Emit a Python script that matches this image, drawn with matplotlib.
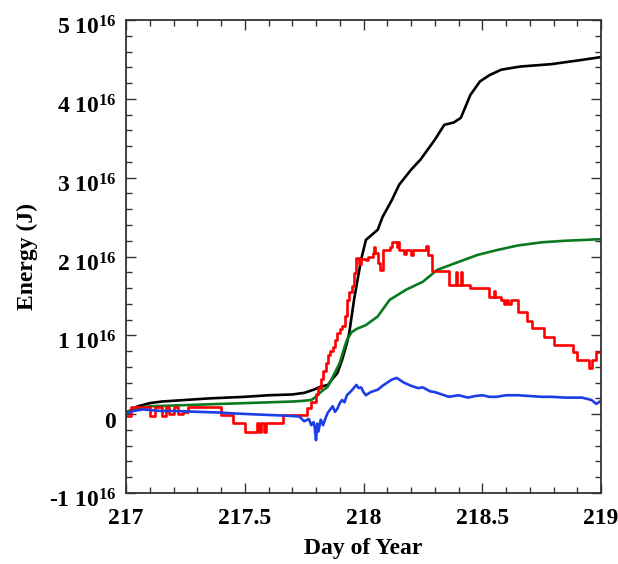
import numpy as np
import matplotlib
matplotlib.use('Agg')
import matplotlib.pyplot as plt
import matplotlib.transforms as mtransforms
from matplotlib.ticker import MultipleLocator, FixedLocator, FixedFormatter

plt.rcParams['font.family'] = ['Liberation Serif', 'DejaVu Serif']
plt.rcParams['font.weight'] = 'bold'
plt.rcParams['mathtext.fontset'] = 'custom'
plt.rcParams['mathtext.rm'] = 'Liberation Serif:bold'
plt.rcParams['mathtext.bf'] = 'Liberation Serif:bold'
plt.rcParams['mathtext.it'] = 'Liberation Serif:bold'
plt.rcParams['mathtext.default'] = 'bf'

# ==================== data (energy in units of 1e16 J) ====================
black_day = [217.00, 217.02, 217.05, 217.10, 217.15, 217.25, 217.35, 217.50, 217.60,
             217.70, 217.75, 217.79, 217.82, 217.85, 217.87, 217.89, 217.91, 217.93,
             217.94, 217.96, 217.99, 218.01, 218.06, 218.08, 218.12, 218.15, 218.20,
             218.24, 218.30, 218.34, 218.38, 218.41, 218.45, 218.49, 218.53, 218.58,
             218.66, 218.79, 218.91, 219.00]
black_e = [0.02, 0.05, 0.10, 0.14, 0.16, 0.18, 0.20, 0.22, 0.24,
           0.25, 0.27, 0.31, 0.35, 0.37, 0.45, 0.52, 0.69, 0.90,
           1.03, 1.45, 1.96, 2.21, 2.34, 2.50, 2.72, 2.91, 3.10,
           3.23, 3.48, 3.67, 3.70, 3.76, 4.05, 4.22, 4.30, 4.37,
           4.41, 4.44, 4.49, 4.53]

green_day = [217.00, 217.05, 217.10, 217.20, 217.30, 217.40, 217.50, 217.60, 217.70,
             217.75, 217.78, 217.80, 217.82, 217.85, 217.875, 217.90, 217.92, 217.93,
             217.95, 217.97, 218.01, 218.06, 218.11, 218.18, 218.25, 218.31, 218.39,
             218.48, 218.56, 218.65, 218.75, 218.85, 218.93, 219.00]
green_e = [0.02, 0.08, 0.10, 0.11, 0.12, 0.13, 0.14, 0.15, 0.16,
           0.17, 0.18, 0.22, 0.28, 0.35, 0.50, 0.65, 0.85, 0.94,
           1.04, 1.08, 1.13, 1.24, 1.45, 1.58, 1.68, 1.83, 1.92,
           2.02, 2.08, 2.14, 2.18, 2.20, 2.21, 2.22]

red_day = [217.00, 217.02, 217.10, 217.12, 217.15, 217.17, 217.18, 217.20, 217.22,
           217.24, 217.26, 217.40, 217.45, 217.50, 217.55, 217.56, 217.57, 217.58,
           217.59, 217.66, 217.76, 217.78, 217.80, 217.81, 217.82, 217.83, 217.84,
           217.85, 217.86, 217.87, 217.88, 217.89, 217.90, 217.91, 217.92, 217.93,
           217.94, 217.95, 217.96, 217.97, 217.98, 217.99, 218.01, 218.02, 218.04,
           218.045, 218.05, 218.06, 218.07, 218.08, 218.11, 218.12, 218.14, 218.145,
           218.15, 218.17, 218.18, 218.20, 218.21, 218.26, 218.265, 218.27, 218.29,
           218.36, 218.39, 218.395, 218.41, 218.415, 218.45, 218.53, 218.55, 218.555,
           218.58, 218.59, 218.60, 218.61, 218.62, 218.65, 218.69, 218.71, 218.76,
           218.80, 218.88, 218.90, 218.95, 218.96, 218.98, 219.00]
red_e = [-0.02, 0.09, -0.02, 0.09, -0.02, 0.09, 0.00, 0.09, 0.00,
         0.03, 0.09, -0.01, -0.11, -0.22, -0.11, -0.22, -0.11, -0.22,
         -0.11, -0.01, 0.08, 0.16, 0.26, 0.33, 0.45, 0.55, 0.65,
         0.75, 0.80, 0.85, 0.94, 1.03, 1.08, 1.12, 1.24, 1.45,
         1.55, 1.62, 1.79, 1.98, 1.90, 1.97, 1.96, 2.00, 2.05,
         2.12, 2.05, 1.92, 1.83, 2.08, 2.12, 2.19, 2.12, 2.19,
         2.08, 2.03, 2.08, 2.02, 2.08, 2.08, 2.13, 2.02, 1.82,
         1.64, 1.80, 1.64, 1.80, 1.64, 1.60, 1.49, 1.56, 1.49,
         1.45, 1.40, 1.45, 1.40, 1.45, 1.30, 1.18, 1.09, 0.98,
         0.88, 0.79, 0.69, 0.59, 0.69, 0.79, 0.79]

blue_day = [217.00, 217.03, 217.07, 217.11, 217.15, 217.21, 217.30, 217.40, 217.45,
            217.52, 217.60, 217.68, 217.73, 217.75, 217.77, 217.78, 217.79, 217.795,
            217.80, 217.805, 217.81, 217.82, 217.83, 217.84, 217.85, 217.86, 217.87,
            217.88, 217.89, 217.90, 217.91, 217.92, 217.93, 217.95, 217.97, 217.98,
            217.99, 218.00, 218.01, 218.03, 218.06, 218.08, 218.10, 218.12, 218.14,
            218.155, 218.17, 218.20, 218.23, 218.25, 218.28, 218.30, 218.33, 218.36,
            218.40, 218.44, 218.47, 218.50, 218.53, 218.56, 218.60, 218.65, 218.70,
            218.75, 218.79, 218.85, 218.92, 218.96, 218.98, 219.00]
blue_e = [0.00, 0.04, 0.06, 0.05, 0.04, 0.04, 0.03, 0.02, 0.01,
          0.00, -0.01, -0.02, -0.03, -0.09, -0.06, -0.14, -0.10, -0.18,
          -0.33, -0.12, -0.22, -0.07, -0.14, -0.05, 0.02, 0.06, 0.10,
          0.03, 0.07, 0.14, 0.18, 0.15, 0.24, 0.30, 0.37, 0.33,
          0.34, 0.28, 0.24, 0.28, 0.31, 0.36, 0.40, 0.44, 0.46,
          0.43, 0.40, 0.36, 0.33, 0.34, 0.29, 0.28, 0.25, 0.22,
          0.24, 0.21, 0.23, 0.24, 0.22, 0.22, 0.24, 0.24, 0.23,
          0.22, 0.22, 0.21, 0.21, 0.18, 0.13, 0.17]

yticks = [-1, 0, 1, 2, 3, 4, 5]
ylabels = ['-1 10$^{16}$', '0', '1 10$^{16}$', '2 10$^{16}$',
           '3 10$^{16}$', '4 10$^{16}$', '5 10$^{16}$']
xticks = [217, 217.5, 218, 218.5, 219]
xlabels = ['217', '217.5', '218', '218.5', '219']

# ==================== draw ====================
fig = plt.figure(figsize=(6.18, 5.64), dpi=100)
ax = fig.add_axes([0.2039, 0.1259, 0.7686, 0.8386])

lw = 1.9
ax.plot(black_day, black_e, color='black', lw=lw)
ax.plot(green_day, green_e, color='#0a7a1e', lw=lw)
ax.plot(red_day, red_e, color='#ff0000', lw=lw, drawstyle='steps-post')
ax.plot(blue_day, blue_e, color='#1c3ee6', lw=lw)

ax.set_xlim(217, 219)
ax.set_ylim(-1, 5)
ax.xaxis.set_major_locator(FixedLocator(xticks))
ax.xaxis.set_major_formatter(FixedFormatter(xlabels))
ax.xaxis.set_minor_locator(MultipleLocator(0.1))
ax.yaxis.set_major_locator(FixedLocator(yticks))
ax.yaxis.set_major_formatter(FixedFormatter(ylabels))
ax.yaxis.set_minor_locator(MultipleLocator(0.2))

ax.tick_params(which='both', direction='in', top=True, right=True,
               labelsize=17, color='#333333', width=1.0)
ax.tick_params(which='major', length=7)
ax.tick_params(which='minor', length=4)
ax.tick_params(axis='x', pad=11)
ax.tick_params(axis='y', pad=7)
for sp in ax.spines.values():
    sp.set_linewidth(1.3)
    sp.set_color('#333333')

# IDL-style labels sit a bit below their ticks
off = mtransforms.ScaledTranslation(0, -4 / 72, fig.dpi_scale_trans)
for lab in ax.get_yticklabels():
    lab.set_transform(lab.get_transform() + off)

ax.set_xlabel('Day of Year', fontsize=17, fontweight='bold', labelpad=6)
ax.set_ylabel('Energy (J)', fontsize=17, fontweight='bold', labelpad=8)

plt.savefig('out.png', dpi=100)
